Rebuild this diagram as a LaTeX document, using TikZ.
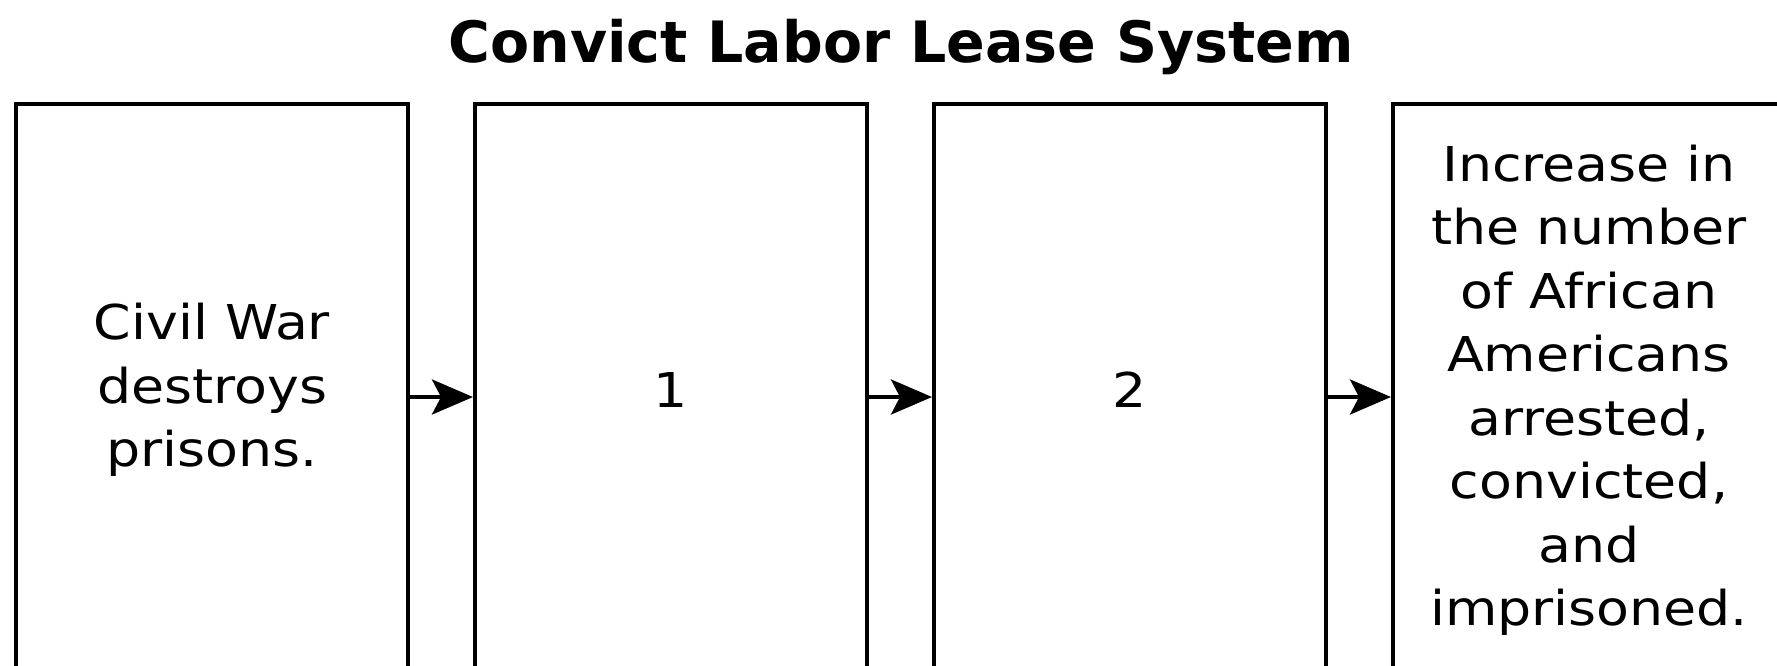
\documentclass[tikz,border=0pt]{standalone}
\usepackage{fontspec}
\setmainfont{DejaVu Sans}
\newfontfamily\bodyfont[FakeStretch=1.12]{DejaVu Sans}
\usetikzlibrary{arrows.meta}
\tikzset{
  stagebox/.style={draw=black, line width=4pt, minimum width=392pt, minimum height=572pt, inner sep=0pt, align=center, font=\bodyfont\fontsize{48}{63.5}\selectfont},
  flowarrow/.style={line width=4pt, -{Stealth[length=41pt, width=35pt, inset=9pt]}},
  titletext/.style={font=\fontsize{57}{68}\selectfont\bfseries, inner sep=0pt}
}
\begin{document}
\begin{tikzpicture}[x=1pt, y=-1pt]
\useasboundingbox (0,0) rectangle (1777,665);
\clip (0,0) rectangle (1777,665);
\node[titletext] (title) at (901,47) {Convict Labor Lease System};
\node[stagebox] (b1) at (212,390) {Civil War\\destroys\\prisons.};
\node[stagebox] (b2) at (671,390) {1};
\node[stagebox] (b3) at (1130,390) {2};
\node[stagebox] (b4) at (1589,390) {Increase in\\the number\\of African\\Americans\\arrested,\\convicted,\\and\\imprisoned.};
\draw[flowarrow] ([yshift=-7pt]b1.east) -- ([yshift=-7pt]b2.west);
\draw[flowarrow] ([yshift=-7pt]b2.east) -- ([yshift=-7pt]b3.west);
\draw[flowarrow] ([yshift=-7pt]b3.east) -- ([yshift=-7pt]b4.west);
\end{tikzpicture}
\end{document}
